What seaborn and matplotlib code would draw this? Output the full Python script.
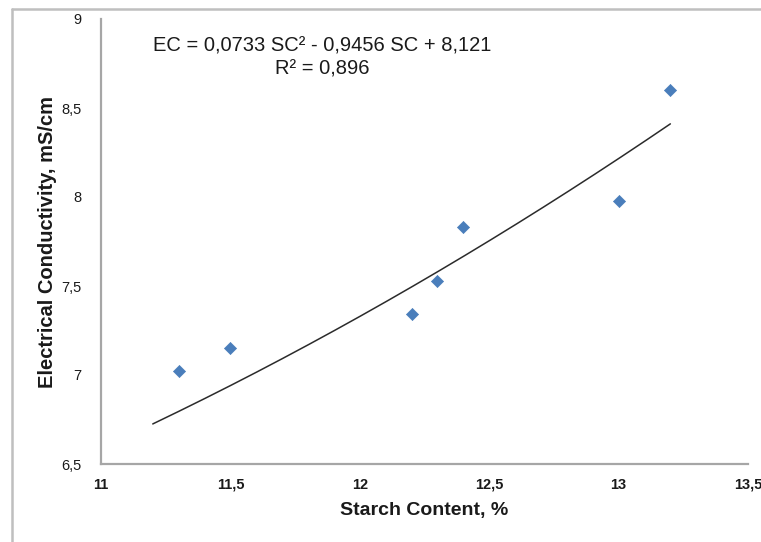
import numpy as np
import pandas as pd
import matplotlib
matplotlib.use("Agg")
import matplotlib.pyplot as plt
from matplotlib.lines import Line2D
import seaborn as sns

# Measured samples
starch = [11.3, 11.5, 12.2, 12.3, 12.4, 13.0, 13.2]
conductivity = [7.02, 7.15, 7.34, 7.53, 7.83, 7.98, 8.60]

# Quadratic trendline as reported
coef = [0.0733, -0.9456, 8.121]
r_squared = 0.896
trend_range = [11.2, 13.2]

x_ticks = [11, 11.5, 12, 12.5, 13, 13.5]
y_ticks = [6.5, 7, 7.5, 8, 8.5, 9]
x_tick_labels = ["11", "11,5", "12", "12,5", "13", "13,5"]
y_tick_labels = ["6,5", "7", "7,5", "8", "8,5", "9"]

sns.set_theme(style="white")
plt.rcParams["font.family"] = ["Liberation Sans", "DejaVu Sans"]

W, H = 761, 542
fig = plt.figure(figsize=(W / 100, H / 100), dpi=100)
left, right, top, bottom = 101, 748, 19, 464
ax = fig.add_axes([left / W, 1 - bottom / H, (right - left) / W, (bottom - top) / H])

df = pd.DataFrame({"SC": starch, "EC": conductivity})
sns.scatterplot(data=df, x="SC", y="EC", marker="D", s=38, color="#4A7EBB",
                edgecolor="#4A7EBB", linewidth=0.5, ax=ax, zorder=3, clip_on=False)

xs = np.linspace(trend_range[0], trend_range[1], 200)
ax.plot(xs, np.polyval(coef, xs), color="#2b2b2b", lw=1.1, zorder=2)

ax.set_xlim(11, 13.5)
ax.set_ylim(6.5, 9)
ax.set_xticks(x_ticks)
ax.set_xticklabels(x_tick_labels, fontsize=10.5, fontweight="semibold", color="#1a1a1a")
ax.set_yticks(y_ticks)
ax.set_yticklabels(y_tick_labels, fontsize=10.5, color="#1a1a1a")
ax.tick_params(axis="x", length=0, pad=10)
ax.tick_params(axis="y", length=0, pad=14)

for side in ["top", "right"]:
    ax.spines[side].set_visible(False)
for side in ["left", "bottom"]:
    ax.spines[side].set_color("#a6a6a6")
    ax.spines[side].set_linewidth(1.6)

ax.set_xlabel("Starch Content, %", fontsize=14, fontweight="bold",
              color="#1a1a1a", labelpad=7)
ax.set_ylabel("Electrical Conductivity, mS/cm", fontsize=14.5, fontweight="bold",
              color="#1a1a1a", labelpad=3)

eq = f"EC = {coef[0]:.4f} SC² - {abs(coef[1]):.4f} SC + {coef[2]:.3f}".replace(".", ",")
r2 = f"R² = {r_squared:.3f}".replace(".", ",")
ax.text(11.854, 8.785, eq + "\n" + r2, ha="center", va="center", fontsize=14.5,
        color="#1a1a1a", linespacing=1.27)

# Chart frame (top and left edges)
fig.add_artist(Line2D([12 / W, 1], [1 - 9 / H, 1 - 9 / H], transform=fig.transFigure,
                      color="#bfbfbf", lw=1.8))
fig.add_artist(Line2D([12 / W, 12 / W], [0, 1 - 9 / H], transform=fig.transFigure,
                      color="#bfbfbf", lw=1.8))

fig.savefig("out.png", dpi=100)
